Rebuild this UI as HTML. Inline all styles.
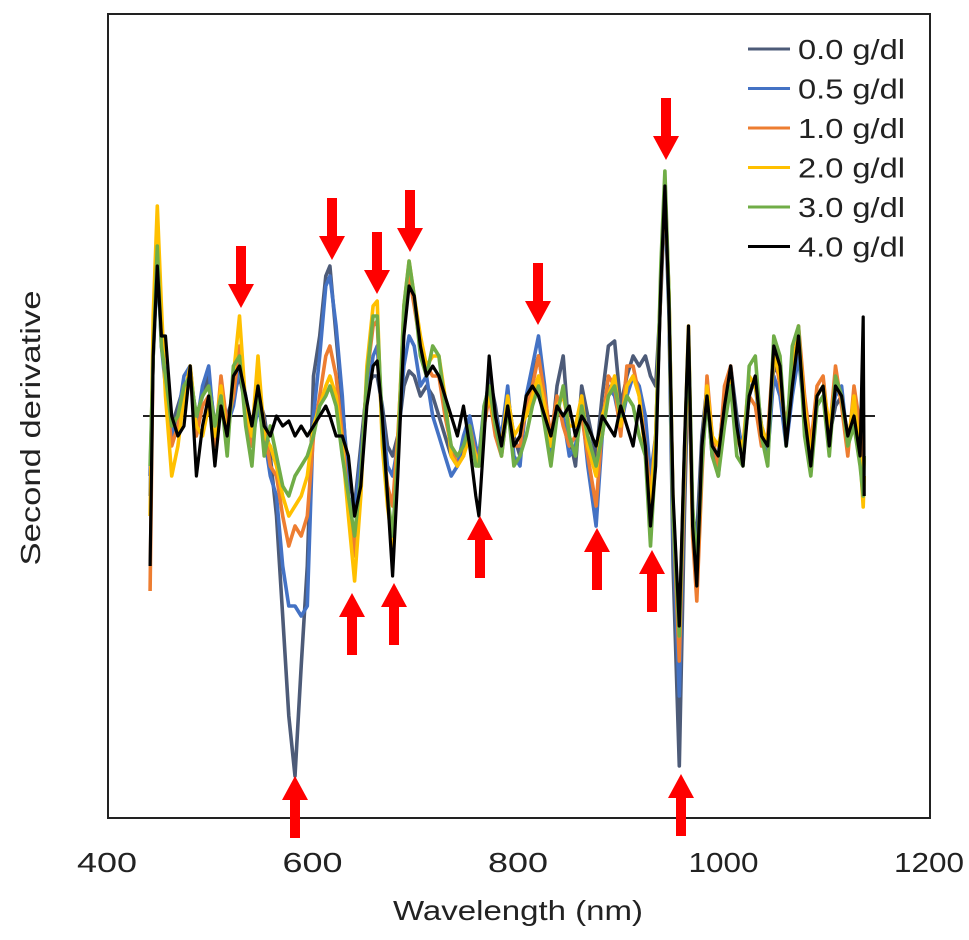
<!DOCTYPE html>
<html><head><meta charset="utf-8"><style>
html,body{margin:0;padding:0;background:#fff;}
svg{display:block;}
text{font-family:"Liberation Sans",Arial,sans-serif;fill:#222;}
</style></head><body>
<svg id="chart" width="969" height="940" viewBox="0 0 969 940">
<rect x="108" y="14" width="822" height="804" fill="none" stroke="#222" stroke-width="2"/>
<line x1="143" y1="416" x2="875" y2="416" stroke="#222" stroke-width="2"/>
<g id="series"></g>
<g id="arrows"></g>
<g id="xticks"></g>
<text x="518" y="920" font-size="28" text-anchor="middle" textLength="250" lengthAdjust="spacingAndGlyphs">Wavelength (nm)</text>
<text x="0" y="0" font-size="28" text-anchor="middle" textLength="275" lengthAdjust="spacingAndGlyphs" transform="translate(40,428) rotate(-90)">Second derivative</text>
<g id="legend"></g>
</svg>
<script>
const wavelengths=[441,444,448,452,456,462,468,474,480,486,492,498,504,510,516,522,528,534,540,546,552,558,564,570,576,582,588,594,600,606,612,616,622,628,634,640,646,652,658,662,667,672,677,682,688,693,698,704,710,716,722,728,734,740,746,752,758,761,766,771,777,783,789,795,801,807,813,819,825,831,837,843,849,855,861,867,875,881,887,893,899,905,911,917,923,928,933,938,942,946,950,956,961,965,969,973,978,983,988,994,1000,1006,1012,1018,1024,1030,1036,1042,1048,1054,1060,1066,1072,1078,1084,1090,1096,1102,1108,1114,1120,1126,1132,1135,1136];
const s00=[-60,60,150,80,40,-10,10,30,40,0,20,40,-10,10,0,20,40,10,-20,20,0,-40,-100,-200,-300,-360,-250,-150,40,80,140,150,80,10,-60,-90,-30,30,40,40,10,-30,-40,-20,30,45,40,20,30,20,0,-20,-40,-50,-30,-10,-40,-50,0,40,10,-30,20,-20,-40,10,40,60,20,-30,30,60,-20,-50,30,0,-40,20,70,75,10,40,60,50,60,40,30,120,220,100,-150,-350,-100,60,-100,-120,-20,30,-30,-60,10,50,0,-40,20,40,-10,-30,50,40,-20,30,70,10,-50,20,30,-20,10,20,-20,0,-30,-60,-40];
const s05=[-80,70,160,70,30,-20,0,40,50,-10,30,50,-20,20,-10,10,50,20,-30,10,-20,-60,-80,-150,-190,-190,-200,-190,0,60,130,140,90,20,-80,-100,-40,20,60,70,0,-50,-60,-30,50,80,70,30,40,0,-20,-40,-60,-50,-20,0,-30,-40,10,30,0,-20,30,-40,-50,20,50,80,30,-40,10,0,-40,-30,10,-50,-110,-20,30,20,-10,20,40,30,0,-60,-20,130,230,110,-120,-280,-60,60,-100,-140,-40,20,-40,-40,20,40,-10,-30,30,30,-20,-40,40,20,-30,20,60,0,-40,10,20,-10,20,30,-30,10,-20,-50,-40];
const s10=[-175,80,180,90,30,-30,-10,30,40,-20,10,20,-30,40,-10,20,70,10,-30,40,-10,-50,-60,-100,-130,-110,-120,-100,-20,20,60,70,40,-20,-90,-140,-60,40,90,95,-20,-70,-90,-20,90,140,110,70,50,40,40,0,-30,-50,-40,-10,-40,-40,-10,20,-20,-40,10,-30,-30,10,30,60,20,-20,20,-10,-30,-20,0,-40,-90,-10,40,30,-20,50,50,20,-30,-80,-20,130,235,120,-100,-245,-60,80,-120,-185,-60,40,-20,-50,30,50,-20,-40,20,10,-30,-20,70,30,-10,40,90,20,-30,30,40,-20,50,10,-40,30,-10,-70,-40];
const s20=[-100,100,210,110,20,-60,-30,20,50,-10,-20,10,-20,30,-30,40,100,10,-20,60,-20,-30,-50,-80,-100,-90,-80,-60,-10,10,30,40,20,-30,-100,-165,-80,50,110,115,-30,-90,-130,-30,110,155,120,80,50,60,60,20,-40,-50,-40,-20,-40,-50,0,20,-10,-30,20,-20,-10,0,20,40,10,-30,10,20,-10,-10,20,-30,-60,0,20,40,-10,30,40,20,-40,-90,-20,140,230,120,-90,-220,-40,90,-110,-160,-40,30,-20,-30,0,40,-20,-30,40,30,-10,-30,60,40,-20,50,80,10,-40,20,30,-10,30,20,-30,20,-40,-91,-60];
const s30=[-50,60,170,70,40,-10,0,30,40,0,20,30,-10,20,-40,50,60,-10,-50,30,-40,-10,-40,-70,-80,-60,-50,-40,-20,10,20,30,10,-40,-80,-120,-60,40,100,100,-10,-80,-120,-40,110,155,120,60,40,70,60,10,-30,-40,-30,-10,-50,-50,10,30,-10,-40,10,-50,-40,-20,10,30,-10,-50,0,30,-20,-40,10,-20,-50,-20,20,30,0,20,10,-20,-40,-130,-40,150,245,120,-100,-220,-40,80,-90,-150,-50,20,-40,-60,-10,30,-40,-50,50,60,-20,-50,80,60,-30,70,90,-20,-60,10,20,-40,40,20,-30,-10,-50,-80,-40];
const s40=[-150,60,150,80,80,0,-20,-10,50,-60,-10,20,-50,10,-20,40,50,20,-10,30,-10,-20,0,-10,-5,-20,-10,-20,-10,0,10,0,-20,-20,-40,-100,-70,10,50,55,0,-80,-160,-60,80,130,120,70,40,50,40,20,0,-20,10,-30,-80,-100,-20,60,0,-30,10,-30,-20,20,30,20,0,-20,10,0,10,-20,0,-10,-30,0,-10,-20,10,-10,-30,10,-30,-110,-50,130,230,110,-80,-210,-30,90,-110,-170,-30,20,-30,-40,10,50,-10,-50,20,40,-20,-30,70,50,-30,30,80,0,-50,20,30,-30,30,20,-20,0,-40,99,-80];
const seriesLabels=["0.0 g/dl","0.5 g/dl","1.0 g/dl","2.0 g/dl","3.0 g/dl","4.0 g/dl"];
const seriesData=[s00,s05,s10,s20,s30,s40];
const xTicks=[400,600,800,1000,1200];
const colors=["#4d5b78","#4472c4","#ed7d31","#ffc000","#70ad47","#000000"];
const NS="http://www.w3.org/2000/svg";
function xScale(nm){return 108+(nm-400)*(822/800);}
function yScale(v){return 416-v;}
const gS=document.getElementById('series');
seriesData.forEach((arr,si)=>{
  const p=document.createElementNS(NS,'polyline');
  p.setAttribute('points',arr.map((v,i)=>xScale(wavelengths[i]).toFixed(1)+','+yScale(v).toFixed(1)).join(' '));
  p.setAttribute('fill','none');p.setAttribute('stroke',colors[si]);
  p.setAttribute('stroke-width',si===5?'3.2':'3.6');p.setAttribute('stroke-linejoin','round');
  
  
  gS.appendChild(p);
});
const gX=document.getElementById('xticks');
xTicks.forEach(t=>{
  const tx=document.createElementNS(NS,'text');
  tx.setAttribute('x',xScale(t)-1);tx.setAttribute('y',872);
  tx.setAttribute('font-size','28');tx.setAttribute('text-anchor','middle');
  tx.setAttribute('textLength',t>=1000?'70':'60');
  tx.setAttribute('lengthAdjust','spacingAndGlyphs');
  tx.textContent=t;
  
  
  gX.appendChild(tx);
});
// annotation arrows (tip x, tip y)
const downArrows=[[241,308],[332,260],[377,294],[410,252],[538,325],[666,160]];
const upArrows=[[295,776],[352,593],[394,583],[480,516],[597,528],[652,550],[681,774]];
const gA=document.getElementById('arrows');
function arrow(x,y,dir){
  const p=document.createElementNS(NS,'polygon');
  const L=62,H=24,hw=13,sw=5;
  const pts=dir>0?[[x,y],[x-hw,y-H],[x-sw,y-H],[x-sw,y-L],[x+sw,y-L],[x+sw,y-H],[x+hw,y-H]]
                 :[[x,y],[x-hw,y+H],[x-sw,y+H],[x-sw,y+L],[x+sw,y+L],[x+sw,y+H],[x+hw,y+H]];
  p.setAttribute('points',pts.map(q=>q.join(',')).join(' '));
  p.setAttribute('fill','#ff0000');
  
  
  gA.appendChild(p);
}
downArrows.forEach(a=>arrow(a[0],a[1],1));
upArrows.forEach(a=>arrow(a[0],a[1],-1));
const gL=document.getElementById('legend');
seriesLabels.forEach((lab,i)=>{
  const y=49+i*39.5;
  const l=document.createElementNS(NS,'line');
  l.setAttribute('x1',748);l.setAttribute('x2',790);l.setAttribute('y1',y);l.setAttribute('y2',y);
  l.setAttribute('stroke',colors[i]);l.setAttribute('stroke-width','3');
  
  
  gL.appendChild(l);
  const t=document.createElementNS(NS,'text');
  t.setAttribute('x',798);t.setAttribute('y',y+10);t.setAttribute('font-size','28');
  t.setAttribute('textLength','107');t.setAttribute('lengthAdjust','spacingAndGlyphs');
  t.textContent=lab;
  
  
  gL.appendChild(t);
});
</script>
</body></html>
